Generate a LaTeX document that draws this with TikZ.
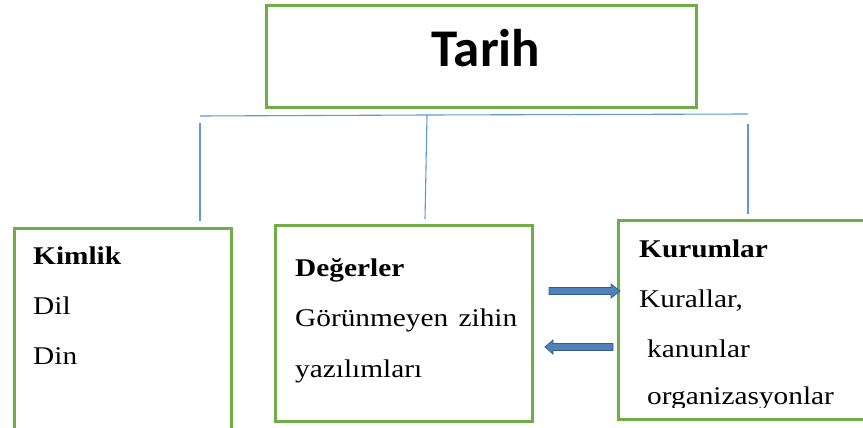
\documentclass[tikz,border=0pt]{standalone}
\usepackage{fontspec}
\setmainfont{Liberation Serif}
\newfontfamily\calibri{Carlito}
\usetikzlibrary{calc}
\definecolor{boxgreen}{HTML}{70AD47}
\definecolor{linkblue}{HTML}{5B9BD5}
\definecolor{arrowfill}{HTML}{4F81BD}
\definecolor{arrowedge}{HTML}{385D8A}
\newcommand{\wtxt}[1]{\scalebox{1.15}[1]{#1}}
\begin{document}
\begin{tikzpicture}[x=1pt,y=-1pt,
  box/.style={draw=boxgreen,line width=3pt,inner sep=0pt},
  link/.style={draw=linkblue,line width=1.1pt},
  txt/.style={anchor=base west,inner sep=0pt,font=\fontsize{25.5}{25.5}\selectfont},
  headtxt/.style={txt,font=\fontsize{25.5}{25.5}\selectfont\bfseries},
  blockarrow/.style={fill=arrowfill,draw=arrowedge,line width=0.8pt,line join=miter}]
\useasboundingbox (0,0) rectangle (863,428);
\clip (0,0) rectangle (863,428);

% boxes
\node[box,minimum width=430pt,minimum height=102pt] (tarih) at (481,57) {};
\node[box,minimum width=217pt,minimum height=222pt] (kimlik) at (122.5,339) {};
\node[box,minimum width=257.5pt,minimum height=196pt] (degerler) at (404,323.5) {};
\node[box,minimum width=281pt,minimum height=199pt] (kurumlar) at (759,319.5) {};

% title
\node[anchor=base,inner sep=0pt,font=\calibri\bfseries\fontsize{53}{53}\selectfont] (tarihtxt) at (486,67) {Tarih};

% tree connectors
\coordinate (hl) at (200,116);
\coordinate (hm) at (427,115);
\coordinate (hr) at (748,114);
\coordinate (vl) at (200,123);
\coordinate (vlb) at (200,221);
\coordinate (vmb) at (425,219);
\coordinate (vr) at (748,124);
\coordinate (vrb) at (748,214);
\draw[link] (hl) -- (hm) -- (hr);
\draw[link] (vl) -- (vlb);
\draw[link] (hm) -- (vmb);
\draw[link] (vr) -- (vrb);

% texts
\node[headtxt] (k1) at (33,264) {\wtxt{Kimlik}};
\node[txt] (k2) at (33,314) {\wtxt{Dil}};
\node[txt] (k3) at (33,364) {\wtxt{Din}};

\node[headtxt] (d1) at (295,276) {\wtxt{Değerler}};
\node[txt] (d2) at (295,326) {\wtxt{Görünmeyen\hspace{9pt}zihin}};
\node[txt] (d3) at (295,377) {\wtxt{yazılımları}};

\node[headtxt] (r1) at (639,257) {\wtxt{Kurumlar}};
\node[txt] (r2) at (639,307) {\wtxt{Kurallar,}};
\node[txt] (r3) at (647,357) {\wtxt{kanunlar}};
\begin{scope}
\clip (600,200) rectangle (863,407);
\node[txt] (r4) at (647,404) {\wtxt{organizasyonlar}};
\end{scope}

% block arrows
\coordinate (ra) at (549,291);
\coordinate (la) at (545,347);
\draw[blockarrow] ($(ra)+(0,-3.5)$) -- ++(62,0) -- ++(0,-3.5) -- ($(ra)+(71,0)$)
  -- ($(ra)+(62,7)$) -- ++(0,-3.5) -- ($(ra)+(0,3.5)$) -- cycle;
\draw[blockarrow] (la) -- ++(8,-7) -- ++(0,3.5) -- ++(60,0) -- ++(0,7)
  -- ++(-60,0) -- ++(0,3.5) -- cycle;
\end{tikzpicture}
\end{document}
